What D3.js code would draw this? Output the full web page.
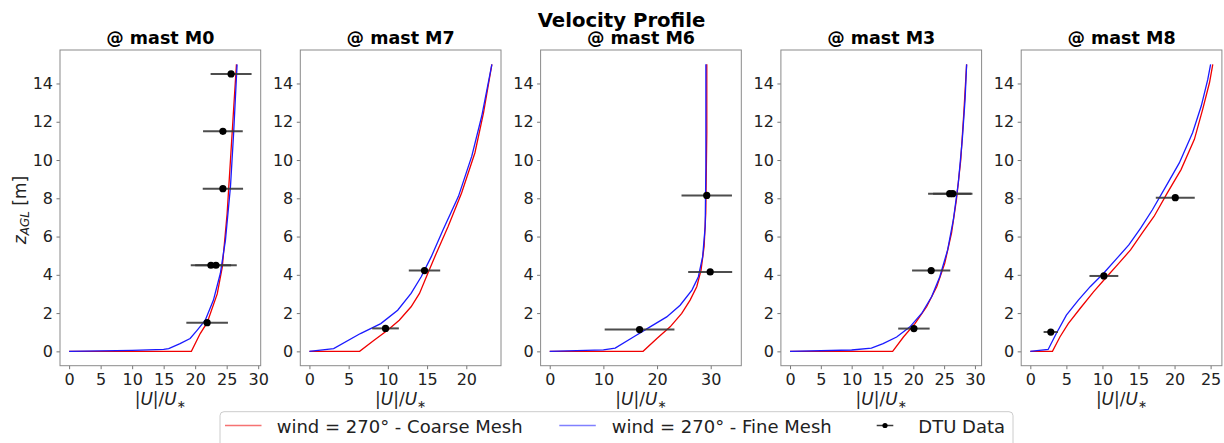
<!DOCTYPE html>
<html><head><meta charset="utf-8">
<script src="https://cdn.jsdelivr.net/npm/d3@7"></script>
<style>body{margin:0;background:#fff}svg{display:block;font-family:"DejaVu Sans",sans-serif}</style>
</head><body><svg id="c" width="1224" height="443"></svg>
<script>
const masts = ["M0", "M7", "M6", "M3", "M8"];
const yTicks = [0, 2, 4, 6, 8, 10, 12, 14];
const xTicks = {
  M0: [0, 5, 10, 15, 20, 25, 30],
  M7: [0, 5, 10, 15, 20],
  M6: [0, 10, 20, 30],
  M3: [0, 5, 10, 15, 20, 25, 30],
  M8: [0, 5, 10, 15, 20, 25]
};
// [|U|/U*, z]
const coarseM0 = [[0,0],[19.4,0],[20.8,0.93],[21.9,1.5],[23.5,3.0],[24.3,4.4],[25.07,7.2],[25.6,10.0],[26.1,12.65],[26.55,15.0]];
const fineM0 = [[0,0],[5,0.02],[10,0.05],[15,0.1],[15.8,0.14],[17.6,0.4],[19.2,0.67],[20.3,1.1],[21.6,1.63],[22.9,2.68],[24.0,4.08],[24.8,5.8],[25.6,8.6],[26.1,11.4],[26.65,15.0]];
const coarseM7 = [[0,0],[6.4,0],[8.24,0.58],[9.96,1.1],[11.45,1.63],[12.96,2.33],[14.03,3.03],[15.1,4.08],[16.18,5.13],[17.68,6.52],[19.4,8.28],[21.1,10.38],[22.2,12.48],[23.26,15.0]];
const fineM7 = [[0,0],[3.09,0.14],[6.5,0.93],[9.1,1.45],[11.25,2.15],[12.96,3.03],[14.25,3.9],[15.54,4.95],[17.04,6.35],[19.0,8.1],[20.7,10.2],[21.97,12.3],[23.26,15.0]];
const coarseM6 = [[0,0],[17.4,0],[19.97,0.67],[22.44,1.28],[24.6,1.98],[26.16,2.68],[27.4,3.38],[28.2,4.25],[28.77,5.48],[29.08,7.23],[29.27,11.4],[29.27,15.0]];
const fineM6 = [[0,0],[10,0.08],[12.2,0.17],[15.6,0.75],[18.7,1.28],[21.8,1.8],[24.3,2.41],[26.5,3.2],[27.7,3.9],[28.5,4.95],[28.97,6.52],[29.1,9.6],[29.1,15.0]];
const coarseM3 = [[0,0],[16.65,0],[18.4,0.75],[20.27,1.45],[22.16,2.33],[23.8,3.38],[25.1,4.6],[26.2,6.18],[27.0,7.93],[27.7,10.0],[28.2,12.48],[28.65,15.0]];
const fineM3 = [[0,0],[10,0.07],[13.2,0.17],[15.1,0.4],[17.3,0.75],[19.46,1.28],[21.35,1.98],[22.97,2.85],[24.3,3.9],[25.57,5.3],[26.5,6.88],[27.3,8.8],[27.95,11.08],[28.4,13.17],[28.65,15.0]];
const coarseM8 = [[0,0],[3.07,0],[4.1,0.75],[5.26,1.45],[6.9,2.24],[8.76,3.11],[10.6,3.9],[12.26,4.6],[13.9,5.3],[15.5,6.18],[17.15,7.05],[19.0,8.28],[20.9,9.5],[22.75,11.08],[23.9,12.65],[24.85,14.05],[25.3,15.0]];
const fineM8 = [[0,0],[2.47,0.1],[3.6,0.93],[5.0,1.89],[6.66,2.68],[8.3,3.38],[10.16,4.08],[12.03,4.87],[13.66,5.56],[15.3,6.44],[16.93,7.4],[18.8,8.62],[20.66,9.85],[22.5,11.43],[23.7,12.82],[24.6,14.2],[25.0,15.0]];
// DTU data: [|U|/U*, z, error half-width]
const dtuM0 = [[25.7,14.5,3.25],[24.4,11.5,3.15],[24.4,8.5,3.2],[22.5,4.5,3.2],[23.3,4.5,3.3],[21.9,1.5,3.3]];
const dtuM7 = [[14.67,4.22,2.0],[9.7,1.2,1.7]];
const dtuM6 = [[29.26,8.15,4.7],[29.9,4.15,4.1],[16.74,1.14,6.5]];
const dtuM3 = [[25.9,8.24,3.5],[26.4,8.24,3.2],[22.9,4.22,3.1],[20.1,1.19,2.55]];
const dtuM8 = [[20.1,8.03,2.7],[10.2,3.94,2.0],[2.84,1.01,1.0]];

const coarse = {M0: coarseM0, M7: coarseM7, M6: coarseM6, M3: coarseM3, M8: coarseM8};
const fine = {M0: fineM0, M7: fineM7, M6: fineM6, M3: fineM3, M8: fineM8};
const dtu = {M0: dtuM0, M7: dtuM7, M6: dtuM6, M3: dtuM3, M8: dtuM8};

const svg = d3.select("#c");
const font = "DejaVu Sans";
const RED = "#f00000", BLUE = "#1a1aff", ERR = "#3a3a3a";
const pTop = 50, pBottom = 365.7, pw = 200.7, left0 = 60, step = 240.3;

svg.append("text").attr("x", 621.5).attr("y", 26.5).attr("text-anchor", "middle")
  .attr("font-size", 19.7).attr("font-weight", "bold").attr("fill", "#000").text("Velocity Profile");

masts.forEach((m, i) => {
  const L = left0 + i * step;
  const allX = [...coarse[m].map(d => d[0]), ...fine[m].map(d => d[0]),
    ...dtu[m].map(d => d[0] + d[2]), ...dtu[m].map(d => d[0] - d[2])];
  const allY = [...coarse[m].map(d => d[1]), ...fine[m].map(d => d[1]), ...dtu[m].map(d => d[1])];
  const x0 = d3.min(allX), x1 = d3.max(allX), y0 = d3.min(allY), y1 = d3.max(allY);
  const mx = (x1 - x0) * 0.05, my = (y1 - y0) * 0.05;
  const x = d3.scaleLinear().domain([x0 - mx, x1 + mx]).range([L, L + pw]);
  const y = d3.scaleLinear().domain([y0 - my, y1 + my]).range([pBottom, pTop]);

  const g = svg.append("g");
  const xa = g.append("g").attr("transform", `translate(0,${pBottom})`)
    .call(d3.axisBottom(x).tickValues(xTicks[m]).tickSize(3.5).tickPadding(4).tickFormat(d3.format("d")));
  const ya = g.append("g").attr("transform", `translate(${L},0)`)
    .call(d3.axisLeft(y).tickValues(yTicks).tickSize(3.5).tickPadding(3.5).tickFormat(d3.format("d")));
  [xa, ya].forEach(a => {
    a.select(".domain").remove();
    a.selectAll(".tick line").attr("stroke", "#666").attr("stroke-width", 0.9);
    a.selectAll(".tick text").attr("font-family", font).attr("font-size", 16).attr("fill", "#222");
  });

  const line = d3.line().x(d => x(d[0])).y(d => y(d[1]));
  g.append("path").datum(coarse[m]).attr("d", line).attr("fill", "none").attr("stroke", RED).attr("stroke-width", 1.3);
  g.append("path").datum(fine[m]).attr("d", line).attr("fill", "none").attr("stroke", BLUE).attr("stroke-width", 1.3);

  g.selectAll(".eb").data(dtu[m]).join("line")
    .attr("x1", d => x(d[0] - d[2])).attr("x2", d => x(d[0] + d[2]))
    .attr("y1", d => y(d[1])).attr("y2", d => y(d[1]))
    .attr("stroke", ERR).attr("stroke-width", 2).attr("opacity", 0.9);
  g.selectAll(".pt").data(dtu[m]).join("circle")
    .attr("cx", d => x(d[0])).attr("cy", d => y(d[1])).attr("r", 3.6).attr("fill", "#000");

  g.append("rect").attr("x", L).attr("y", pTop).attr("width", pw).attr("height", pBottom - pTop)
    .attr("fill", "none").attr("stroke", "#8a8a8a").attr("stroke-width", 1);

  g.append("text").attr("x", L + pw / 2).attr("y", 44).attr("text-anchor", "middle")
    .attr("font-size", 17.5).attr("font-weight", "bold").attr("fill", "#000").text("@ mast " + m);

  const xl = g.append("text").attr("x", L + pw / 2).attr("y", 405).attr("text-anchor", "middle")
    .attr("font-size", 17).attr("fill", "#222");
  xl.append("tspan").text("|");
  xl.append("tspan").attr("font-style", "italic").text("U");
  xl.append("tspan").text("|/");
  xl.append("tspan").attr("font-style", "italic").text("U");
  xl.append("tspan").attr("font-size", 11).attr("dy", 3).text("∗");
});

const yl = svg.append("text").attr("transform", "translate(26,210) rotate(-90)").attr("text-anchor", "middle")
  .attr("font-size", 17).attr("fill", "#222");
yl.append("tspan").attr("font-style", "italic").text("z");
yl.append("tspan").attr("font-style", "italic").attr("font-size", 12).attr("dy", 3).text("AGL");
yl.append("tspan").attr("dy", -3).text(" [m]");

const lg = svg.append("g");
lg.append("rect").attr("x", 220).attr("y", 411.7).attr("width", 793).attr("height", 45).attr("rx", 4)
  .attr("fill", "#fff").attr("stroke", "#cccccc").attr("stroke-width", 1);
const legItems = [
  {label: "wind = 270° - Coarse Mesh", color: RED, x: 225, tx: 276.7, type: "line"},
  {label: "wind = 270° - Fine Mesh", color: BLUE, x: 559.3, tx: 611.7, type: "line"},
  {label: "DTU Data", color: "#000", x: 876.7, tx: 918.3, type: "pt"}
];
legItems.forEach(it => {
  if (it.type === "line") {
    lg.append("line").attr("x1", it.x).attr("x2", it.x + 36.5).attr("y1", 425.5).attr("y2", 425.5)
      .attr("stroke", it.color).attr("stroke-width", 1.5).attr("opacity", 0.55);
  } else {
    lg.append("line").attr("x1", it.x).attr("x2", it.x + 16.6).attr("y1", 425.5).attr("y2", 425.5)
      .attr("stroke", ERR).attr("stroke-width", 1.5);
    lg.append("circle").attr("cx", it.x + 8.3).attr("cy", 425.5).attr("r", 2.6).attr("fill", "#000");
  }
  lg.append("text").attr("x", it.tx).attr("y", 432.5).attr("font-size", 18).attr("fill", "#222").text(it.label);
});
</script></body></html>
